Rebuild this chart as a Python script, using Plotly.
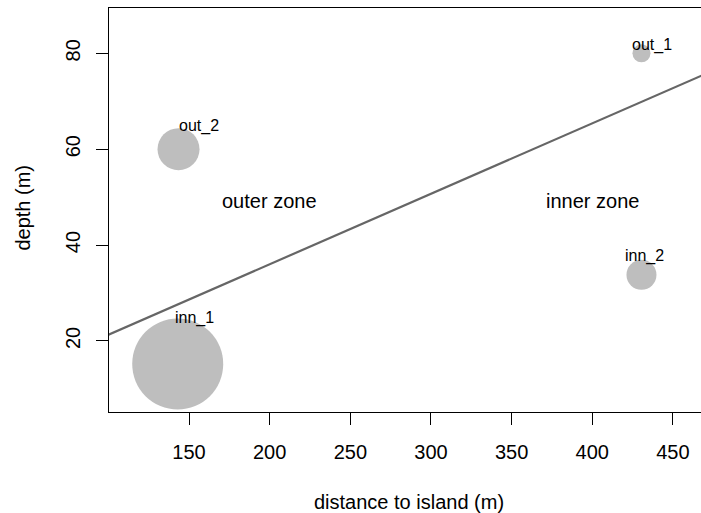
import plotly.graph_objects as go

# ---- data ----
sites = ["out_1", "out_2", "inn_2", "inn_1"]
distance = [430.5, 143.5, 430.5, 143.0]          # distance to island (m)
depth = [80.0, 60.0, 33.8, 15.2]                 # depth (m)
bubble_value = [1.8, 4.2, 3.0, 9.1]              # relative bubble size
label_x = [437.3, 156.2, 432.3, 153.4]
label_y = [81.7, 64.9, 37.7, 24.7]

zone_names = ["outer zone", "inner zone"]
zone_x = [200, 400]
zone_y = [50, 50]

line_intercept = 6.6
line_slope = 0.147
line_x = [80, 500]

x_ticks = [150, 200, 250, 300, 350, 400, 450]
y_ticks = [20, 40, 60, 80]

FONT = "Liberation Sans, Arial, sans-serif"

fig = go.Figure()

fig.add_trace(go.Scatter(
    x=line_x,
    y=[line_intercept + line_slope * v for v in line_x],
    mode="lines",
    line=dict(color="#666666", width=2.2),
    hoverinfo="skip",
    showlegend=False,
))

fig.add_trace(go.Scatter(
    x=distance, y=depth, mode="markers",
    marker=dict(size=[v * 10 for v in bubble_value], sizemode="diameter",
                color="#BEBEBE", line=dict(width=0), opacity=1),
    cliponaxis=True,
    showlegend=False,
))

annotations = []
for s, lx, ly in zip(sites, label_x, label_y):
    annotations.append(dict(text=s, x=lx, y=ly, xref="x", yref="y",
                            showarrow=False, yshift=0,
                            xanchor="center", yanchor="middle",
                            font=dict(family=FONT, size=16, color="#000000")))
for s, zx, zy in zip(zone_names, zone_x, zone_y):
    annotations.append(dict(text=s, x=zx, y=zy, xref="x", yref="y",
                            showarrow=False, yshift=-4,
                            xanchor="center", yanchor="middle",
                            font=dict(family=FONT, size=20, color="#000000")))
annotations += [
    dict(text="distance to island (m)", xref="paper", yref="paper",
         x=0.5068, y=-0.224, xanchor="center", yanchor="middle",
         showarrow=False, font=dict(size=20)),
    dict(text="depth (m)", xref="paper", yref="paper",
         x=-0.1453, y=0.506, xanchor="center", yanchor="middle",
         textangle=-90, showarrow=False, font=dict(size=20)),
]

fig.update_layout(
    width=701, height=513,
    margin=dict(l=109, r=0, t=8, b=101),
    paper_bgcolor="white", plot_bgcolor="white",
    font=dict(family=FONT, size=20, color="#000000"),
    xaxis=dict(
        range=[100.4, 467.4], tickvals=x_ticks, ticks="outside", ticklen=12,
        tickwidth=1, tickcolor="#000000", showline=True, linecolor="#000000",
        linewidth=1, mirror=True, showgrid=False, zeroline=False,
        tickfont=dict(size=20), ticklabelstandoff=10,
    ),
    yaxis=dict(
        range=[5.18, 89.46], tickvals=y_ticks, ticks="outside", ticklen=12,
        tickwidth=1, tickcolor="#000000", showline=True, linecolor="#000000",
        linewidth=1, mirror=False, showgrid=False, zeroline=False,
        tickangle=-90, tickfont=dict(size=20), ticklabelstandoff=8,
    ),
    annotations=annotations,
)

fig.write_html("out.html")
